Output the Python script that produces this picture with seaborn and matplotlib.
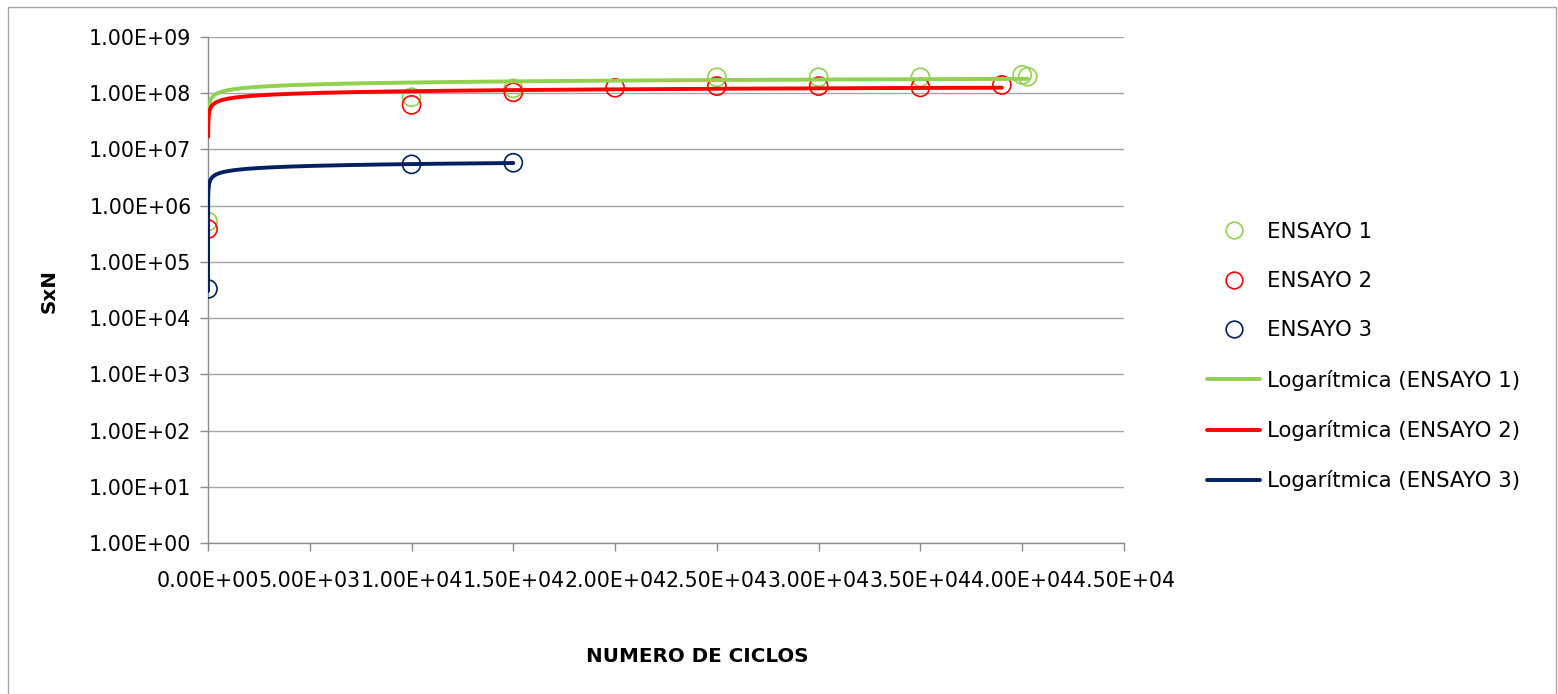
import numpy as np
import pandas as pd
import matplotlib
matplotlib.use("Agg")
import matplotlib.pyplot as plt
from matplotlib.lines import Line2D
from matplotlib.patches import Rectangle
from matplotlib.ticker import FuncFormatter, FixedLocator, NullLocator
import seaborn as sns

# --- data: cycles (N) vs S x N for three tests ---
ciclos_1 = [1, 10000, 15000, 25000, 30000, 35000, 40000, 40270]
sxn_1 = [5.2e5, 8.5e7, 1.22e8, 1.92e8, 1.92e8, 1.92e8, 2.11e8, 1.97e8]

ciclos_2 = [1, 10000, 15000, 20000, 25000, 30000, 35000, 39000]
sxn_2 = [3.84e5, 6.2e7, 1.04e8, 1.25e8, 1.34e8, 1.34e8, 1.27e8, 1.40e8]

ciclos_3 = [1, 10000, 15000]
sxn_3 = [3.3e4, 5.43e6, 5.8e6]

series_names = ["ENSAYO 1", "ENSAYO 2", "ENSAYO 3"]
trend_names = ["Logarítmica (ENSAYO 1)", "Logarítmica (ENSAYO 2)", "Logarítmica (ENSAYO 3)"]
colors = ["#92D050", "#FF0000", "#002060"]

x_ticks = [0, 5000, 10000, 15000, 20000, 25000, 30000, 35000, 40000, 45000]
y_ticks = [1e0, 1e1, 1e2, 1e3, 1e4, 1e5, 1e6, 1e7, 1e8, 1e9]

sns.set_theme(style="white")
plt.rcParams["font.family"] = ["DejaVu Sans"]
plt.rcParams["text.color"] = "black"

fig = plt.figure(figsize=(15.58, 6.94), dpi=100)
ax = fig.add_axes([208 / 1558, 1 - 543 / 694, (1124 - 208) / 1558, (543 - 37) / 694])

datasets = [(ciclos_1, sxn_1), (ciclos_2, sxn_2), (ciclos_3, sxn_3)]

# scatter points (open circles)
for (xs, ys), name, col in zip(datasets, series_names, colors):
    df = pd.DataFrame({"ciclos": xs, "sxn": ys})
    sns.scatterplot(data=df, x="ciclos", y="sxn", ax=ax, marker="o", s=170,
                    facecolor="none", edgecolor=col, linewidth=1.2, zorder=3,
                    legend=False)

# logarithmic trendlines y = a*ln(x) + b
for (xs, ys), name, col in zip(datasets, trend_names, colors):
    xs = np.asarray(xs, dtype=float)
    ys = np.asarray(ys, dtype=float)
    a, b = np.polyfit(np.log(xs), ys, 1)
    xf = np.linspace(xs.min(), xs.max(), 8000)
    yf = a * np.log(xf) + b
    keep = yf > 0
    tdf = pd.DataFrame({"ciclos": xf[keep], "sxn": yf[keep]})
    sns.lineplot(data=tdf, x="ciclos", y="sxn", ax=ax, color=col, linewidth=2.8,
                 zorder=4, legend=False, estimator=None, sort=False)

ax.set_yscale("log")
ax.set_ylim(1, 1e9)
ax.set_xlim(0, 45000)
ax.xaxis.set_major_locator(FixedLocator(x_ticks))
ax.yaxis.set_major_locator(FixedLocator(y_ticks))
ax.yaxis.set_minor_locator(NullLocator())
ax.xaxis.set_minor_locator(NullLocator())
fmt = FuncFormatter(lambda v, p: f"{v:.2E}")
ax.xaxis.set_major_formatter(fmt)
ax.yaxis.set_major_formatter(fmt)

ax.grid(axis="y", color="#A6A6A6", linewidth=1.0)
ax.grid(axis="x", visible=False)
for side in ["top", "right"]:
    ax.spines[side].set_visible(False)
for side in ["left", "bottom"]:
    ax.spines[side].set_color("#8C8C8C")
    ax.spines[side].set_linewidth(1.0)

ax.tick_params(axis="both", which="major", direction="out", length=6, width=1.0,
               color="#8C8C8C", labelsize=14.8, labelcolor="#000000",
               bottom=True, left=True)
ax.tick_params(axis="x", pad=14)
ax.tick_params(axis="y", pad=6)

ax.set_xlabel("NUMERO DE CICLOS", fontsize=14.3, fontweight="bold", color="#000000")
ax.set_ylabel("SxN", fontsize=14.3, fontweight="bold", color="#000000")
ax.xaxis.set_label_coords((697 - 208) / 916, (543 - 647) / 506)
ax.yaxis.set_label_coords((59 - 208) / 916, (543 - 291) / 506)

# legend
handles = []
for name, col in zip(series_names, colors):
    handles.append(Line2D([], [], linestyle="none", marker="o", markersize=12,
                          markerfacecolor="none", markeredgecolor=col,
                          markeredgewidth=1.2, label=name))
for name, col in zip(trend_names, colors):
    handles.append(Line2D([], [], color=col, linewidth=2.8, label=name))
fig.legend(handles=handles, loc="center left",
           bbox_to_anchor=((1207 - 8.5) / 1558, 1 - 356.5 / 694),
           frameon=False, fontsize=15.3, handlelength=2.5, handletextpad=0.33,
           labelspacing=1.38, borderaxespad=0, labelcolor="black")

# chart border
fig.patches.append(Rectangle((8 / 1558, -0.02), (1556 - 8) / 1558, 1.02 - 7 / 694,
                             transform=fig.transFigure, fill=False,
                             edgecolor="#A6A6A6", linewidth=1.0))

fig.savefig("out.png", dpi=100, facecolor="white")
